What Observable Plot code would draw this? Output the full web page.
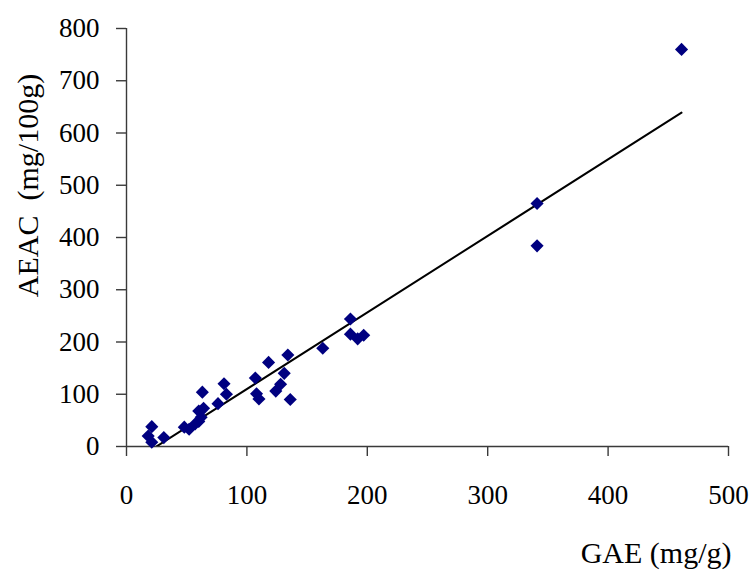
<!DOCTYPE html>
<html>
<head>
<meta charset="utf-8">
<script src="https://cdn.jsdelivr.net/npm/d3@7"></script>
<script src="https://cdn.jsdelivr.net/npm/@observablehq/plot@0.6"></script>
<style>
  html, body { margin: 0; padding: 0; background: #ffffff; }
  #chart svg { display: block; }
</style>
</head>
<body>
<div id="chart"></div>
<script>
// Total phenolics (GAE, mg/g) against antioxidant capacity (AEAC, mg/100g)
const gae  = [18, 21, 21, 31, 48, 52, 57, 60, 62, 60, 64, 63, 76, 83, 81, 107,
              108, 110, 118, 134, 131, 128, 124, 136, 163, 186, 186, 192, 197, 341, 341, 461];
const aeac = [20, 38, 8, 17, 37, 33, 43, 48, 56, 68, 73, 104, 82, 100, 120, 131,
              101, 91, 161, 175, 140, 119, 106, 90, 188, 244, 215, 206, 213, 465, 384, 760];

const xTicks = [0, 100, 200, 300, 400, 500];
const yTicks = [0, 100, 200, 300, 400, 500, 600, 700, 800];

const xTitle = "GAE (mg/g)";
const yTitle = "AEAC\u00a0 (mg/100g)";

const samples = gae.map((g, i) => ({gae: g, aeac: aeac[i]}));

const axisColor = "#3a3a3a";

const chart = Plot.plot({
  width: 754,
  height: 570,
  marginLeft: 126,
  marginRight: 26,
  marginTop: 28,
  marginBottom: 124,
  style: {fontFamily: "'Liberation Serif', 'Times New Roman', serif", fontSize: "27px", color: "#000", background: "#fff"},
  x: {domain: [0, 500], ticks: xTicks, tickSize: 10, tickPadding: 28, label: null, tickFormat: d => String(d)},
  y: {domain: [0, 800], ticks: yTicks, tickSize: 10, tickPadding: 17, label: null, tickFormat: d => String(d)},
  marks: [
    Plot.ruleY([0], {stroke: axisColor, strokeWidth: 1.4}),
    Plot.ruleX([0], {stroke: axisColor, strokeWidth: 1.4}),
    Plot.linearRegressionY(samples, {x: "gae", y: "aeac", ci: 0, stroke: "#000", strokeWidth: 2, clip: true}),
    Plot.dot(samples, {x: "gae", y: "aeac", symbol: "diamond2", r: 5.9, fill: "#000080", stroke: "none"}),
    Plot.text([xTitle], {frameAnchor: "bottom-right", text: d => d, textAnchor: "end", lineAnchor: "middle",
      dx: 3, dy: 107, fontSize: 30, fill: "#000"}),
    Plot.text([yTitle], {frameAnchor: "left", text: d => d, rotate: -90, textAnchor: "middle", lineAnchor: "middle",
      dx: -98, dy: -52, fontSize: 30, fill: "#000"})
  ]
});

// axis tick strokes in the same dark grey as the axis lines
chart.querySelectorAll("[aria-label='x-axis tick'], [aria-label='y-axis tick']").forEach(g => {
  g.setAttribute("stroke", axisColor);
  g.setAttribute("stroke-width", "1.4");
});

document.getElementById("chart").appendChild(chart);
</script>
</body>
</html>
